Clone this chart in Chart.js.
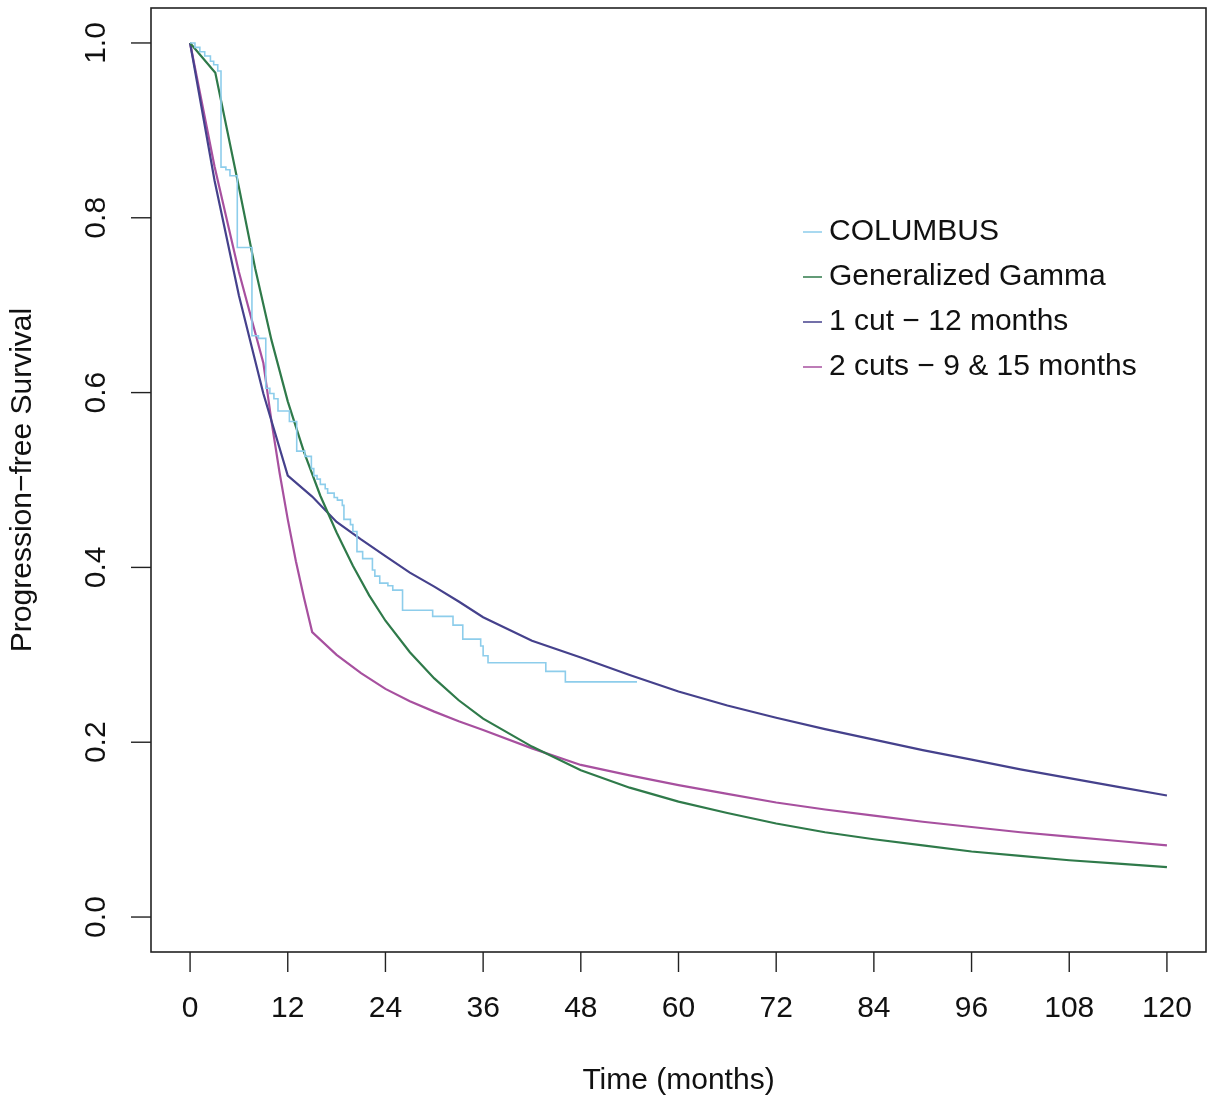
<!DOCTYPE html>
<html lang="en">
<head>
    <meta charset="UTF-8">
    <title>Progression-free Survival</title>
    <style>
        body {
            margin: 0;
            padding: 0;
            background: #ffffff;
        }
        #chart-container {
            width: 1211px;
            height: 1100px;
        }
    </style>
</head>
<body>
    <div id="chart-container">
        <canvas id="pfsChart" width="1211" height="1100"></canvas>
    </div>

    <script src="https://cdn.jsdelivr.net/npm/chart.js"></script>
    <script>
        // axis ticks
        const xTicks = [0, 12, 24, 36, 48, 60, 72, 84, 96, 108, 120];
        const yTicks = ['0.0', '0.2', '0.4', '0.6', '0.8', '1.0'];

        const seriesNames = ['COLUMBUS', 'Generalized Gamma', '1 cut \u2212 12 months', '2 cuts \u2212 9 & 15 months'];
        const seriesColors = ['#8DCDEB', '#2F7A4A', '#45418C', '#A7509F'];

        // Kaplan-Meier (step drops)
        const kmTime = [0, 0.6, 1.2, 1.8, 2.5, 2.9, 3.4, 3.8, 4.4, 4.9, 5.8, 7.6, 8.4, 9.3, 9.8, 10.3, 10.8, 12.2,
            13.1, 14.1, 14.9, 15.2, 15.6, 16.0, 16.6, 16.9, 17.7, 18.1, 18.7, 18.9, 19.7, 20.0, 20.5, 21.2,
            22.4, 22.7, 23.3, 24.3, 24.9, 26.1, 29.8, 32.3, 33.5, 35.7, 36.0, 36.6, 43.7, 46.1, 54.9];
        const kmSurv = [1, 0.995, 0.990, 0.985, 0.979, 0.975, 0.968, 0.858, 0.855, 0.848, 0.766, 0.665, 0.662, 0.605, 0.599, 0.593, 0.579, 0.567,
            0.533, 0.527, 0.513, 0.505, 0.501, 0.495, 0.490, 0.485, 0.480, 0.477, 0.471, 0.455, 0.449, 0.441, 0.418, 0.410,
            0.397, 0.390, 0.382, 0.379, 0.374, 0.351, 0.344, 0.334, 0.318, 0.310, 0.299, 0.291, 0.281, 0.269, 0.269];

        // Generalized Gamma
        const ggTime = [0, 3.1, 6, 8, 10, 12, 14, 16, 18, 20, 22, 24, 27, 30, 33, 36, 42, 48, 54, 60, 66, 72, 78, 84, 90, 96, 102, 108, 114, 120];
        const ggSurv = [1, 0.966, 0.835, 0.742, 0.660, 0.590, 0.532, 0.482, 0.440, 0.402, 0.368, 0.339, 0.303, 0.273, 0.248, 0.227, 0.195, 0.168, 0.148, 0.132, 0.119, 0.107, 0.097, 0.089, 0.082, 0.075, 0.070, 0.065, 0.061, 0.057];

        // 1 cut - 12 months
        const cut1Time = [0, 3, 6, 9, 12, 15, 18, 21, 24, 27, 30, 33, 36, 42, 48, 54, 60, 66, 72, 78, 84, 90, 96, 102, 108, 114, 120];
        const cut1Surv = [1, 0.843, 0.711, 0.599, 0.505, 0.481, 0.452, 0.432, 0.413, 0.394, 0.378, 0.361, 0.343, 0.316, 0.297, 0.277, 0.258, 0.242, 0.228, 0.215, 0.203, 0.191, 0.180, 0.169, 0.159, 0.149, 0.139];

        // 2 cuts - 9 & 15 months
        const cut2Time = [0, 3, 6, 9, 10, 11, 12, 13, 14, 15, 18, 21, 24, 27, 30, 33, 36, 42, 48, 54, 60, 66, 72, 78, 84, 90, 96, 102, 108, 114, 120];
        const cut2Surv = [1, 0.859, 0.738, 0.634, 0.567, 0.508, 0.455, 0.407, 0.365, 0.326, 0.300, 0.279, 0.261, 0.247, 0.235, 0.224, 0.214, 0.193, 0.174, 0.162, 0.151, 0.141, 0.131, 0.123, 0.116, 0.109, 0.103, 0.097, 0.092, 0.087, 0.082];

        const FONT = '30px "Liberation Sans", Arial, sans-serif';

        function toPoints(ts, ss) {
            return ts.map((t, i) => ({ x: t, y: ss[i] }));
        }

        // R-style frame, ticks, labels and legend
        const rFrame = {
            id: 'rFrame',
            afterDraw(chart) {
                const ctx = chart.ctx;
                const a = chart.chartArea;
                const xs = chart.scales.x;
                const ys = chart.scales.y;
                ctx.save();
                ctx.strokeStyle = '#222';
                ctx.lineWidth = 1.6;
                ctx.strokeRect(a.left, a.top, a.right - a.left, a.bottom - a.top);

                ctx.fillStyle = '#111';
                ctx.font = FONT;
                ctx.lineWidth = 1.4;

                // x axis
                ctx.textAlign = 'center';
                ctx.textBaseline = 'middle';
                xTicks.forEach(v => {
                    const px = xs.getPixelForValue(v);
                    ctx.beginPath();
                    ctx.moveTo(px, a.bottom);
                    ctx.lineTo(px, a.bottom + 20);
                    ctx.stroke();
                    ctx.fillText(String(v), px, 1009);
                });
                ctx.fillText('Time (months)', (a.left + a.right) / 2, 1081);

                // y axis
                yTicks.forEach(lbl => {
                    const py = ys.getPixelForValue(parseFloat(lbl));
                    ctx.beginPath();
                    ctx.moveTo(a.left, py);
                    ctx.lineTo(a.left - 20, py);
                    ctx.stroke();
                    ctx.save();
                    ctx.translate(97, py);
                    ctx.rotate(-Math.PI / 2);
                    ctx.fillText(lbl, 0, 0);
                    ctx.restore();
                });
                ctx.save();
                ctx.translate(23, (a.top + a.bottom) / 2);
                ctx.rotate(-Math.PI / 2);
                ctx.fillText('Progression\u2212free Survival', 0, 0);
                ctx.restore();

                // legend
                ctx.textAlign = 'left';
                seriesNames.forEach((name, i) => {
                    const y = 232 + i * 45;
                    ctx.strokeStyle = seriesColors[i];
                    ctx.lineWidth = 1.5;
                    ctx.beginPath();
                    ctx.moveTo(803, y);
                    ctx.lineTo(822, y);
                    ctx.stroke();
                    ctx.fillText(name, 829, y);
                });
                ctx.restore();
            }
        };

        const ctx = document.getElementById('pfsChart').getContext('2d');
        new Chart(ctx, {
            type: 'line',
            data: {
                datasets: [
                    {
                        label: seriesNames[0],
                        data: toPoints(kmTime, kmSurv),
                        borderColor: seriesColors[0],
                        borderWidth: 1.6,
                        stepped: 'before',
                        pointRadius: 0
                    },
                    {
                        label: seriesNames[1],
                        data: toPoints(ggTime, ggSurv),
                        borderColor: seriesColors[1],
                        borderWidth: 2.2,
                        pointRadius: 0
                    },
                    {
                        label: seriesNames[2],
                        data: toPoints(cut1Time, cut1Surv),
                        borderColor: seriesColors[2],
                        borderWidth: 2.2,
                        pointRadius: 0
                    },
                    {
                        label: seriesNames[3],
                        data: toPoints(cut2Time, cut2Surv),
                        borderColor: seriesColors[3],
                        borderWidth: 2.2,
                        pointRadius: 0
                    }
                ]
            },
            options: {
                responsive: false,
                devicePixelRatio: 1,
                animation: false,
                layout: {
                    padding: { left: 151, top: 8, right: 5, bottom: 148 }
                },
                plugins: {
                    legend: { display: false },
                    tooltip: { enabled: false }
                },
                scales: {
                    x: { type: 'linear', min: -4.8, max: 124.8, display: false },
                    y: { type: 'linear', min: -0.04, max: 1.04, display: false }
                }
            },
            plugins: [rFrame]
        });
    </script>
</body>
</html>
